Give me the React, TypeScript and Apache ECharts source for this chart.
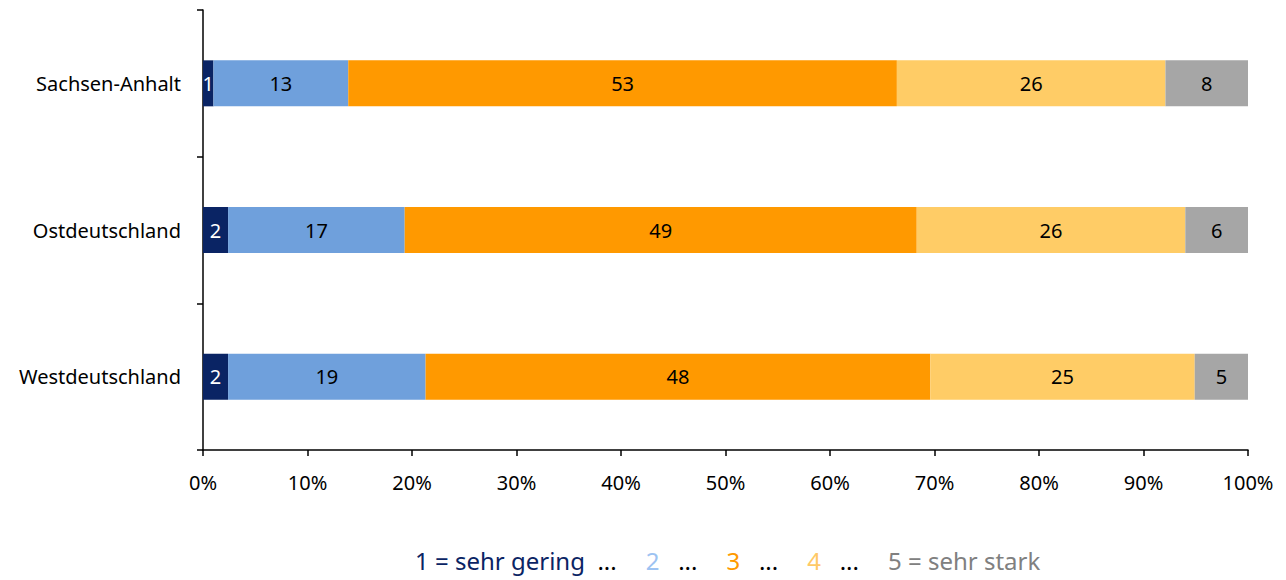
import React, { useEffect, useRef } from "react";
import * as echarts from "echarts";

const categories = ["Sachsen-Anhalt", "Ostdeutschland", "Westdeutschland"];
const seriesNames = ["1 = sehr gering", "2", "3", "4", "5 = sehr stark"];
// shares in percent per category (Sachsen-Anhalt, Ostdeutschland, Westdeutschland)
const s1 = [1.0, 2.4, 2.4];
const s2 = [12.9, 16.9, 18.9];
const s3 = [52.5, 49.0, 48.3];
const s4 = [25.7, 25.7, 25.3];
const s5 = [7.9, 6.0, 5.1];
const xTicks = [0, 10, 20, 30, 40, 50, 60, 70, 80, 90, 100];

const barColors = ["#0A2464", "#6FA0DC", "#FF9900", "#FFCC66", "#A6A6A6"];
const legendColors = ["#0A2464", "#9DC3F2", "#FF9900", "#FFC966", "#808080"];
const labelColors = ["#FFFFFF", "#000000", "#000000", "#000000", "#000000"];
const FONT = "Noto Sans";

export default function App() {
  const ref = useRef<HTMLDivElement>(null);
  useEffect(() => {
    if (!ref.current) return;
    const chart = echarts.init(ref.current, null, { renderer: "svg" });
    const all = [s1, s2, s3, s4, s5];
    const rich: any = { d: { color: "#000", fontSize: 24, fontFamily: FONT } };
    legendColors.forEach((c, i) => {
      rich["c" + i] = { color: c, fontSize: 24, fontFamily: FONT };
    });
    chart.setOption({
      animation: false,
      textStyle: { fontFamily: FONT },
      grid: { left: 203, right: 38, top: 10, bottom: 130, containLabel: false },
      xAxis: {
        type: "value",
        min: 0,
        max: 100,
        interval: 10,
        axisLine: { show: true, lineStyle: { color: "#000", width: 1.5 } },
        axisTick: { show: true, length: 6, lineStyle: { color: "#000", width: 1.5 } },
        splitLine: { show: false },
        axisLabel: {
          color: "#000",
          fontSize: 20,
          fontFamily: FONT,
          margin: 22,
          formatter: (v: number) => (xTicks.includes(v) ? v + "%" : ""),
        },
      },
      yAxis: {
        type: "category",
        data: categories,
        inverse: true,
        axisLine: { show: true, lineStyle: { color: "#000", width: 1.5 } },
        axisTick: { show: true, length: 6, lineStyle: { color: "#000", width: 1.5 } },
        axisLabel: { color: "#000", fontSize: 20, fontFamily: FONT, margin: 22 },
      },
      legend: {
        left: 410,
        top: 548,
        padding: 0,
        icon: "none",
        itemWidth: 0,
        itemHeight: 10,
        itemGap: 24,
        selectedMode: false,
        data: seriesNames,
        formatter: (name: string) => {
          const i = seriesNames.indexOf(name);
          if (i === 0) return `{c${i}|${name}}{d|  ...}`;
          return i < seriesNames.length - 1 ? `{c${i}|${name}}{d|   ...}` : `{c${i}|${name}}`;
        },
        textStyle: { rich },
      },
      series: all.map((vals, i) => ({
        name: seriesNames[i],
        type: "bar",
        stack: "total",
        barWidth: 46,
        data: vals,
        itemStyle: { color: barColors[i] },
        label: {
          show: true,
          position: "inside",
          color: labelColors[i],
          fontSize: 20,
          fontFamily: FONT,
          formatter: (p: any) => String(Math.round(p.value)),
        },
      })),
    });
    return () => chart.dispose();
  }, []);
  return (
    <div
      ref={ref}
      style={{ position: "absolute", left: 0, top: 0, width: 1286, height: 580 }}
    />
  );
}
